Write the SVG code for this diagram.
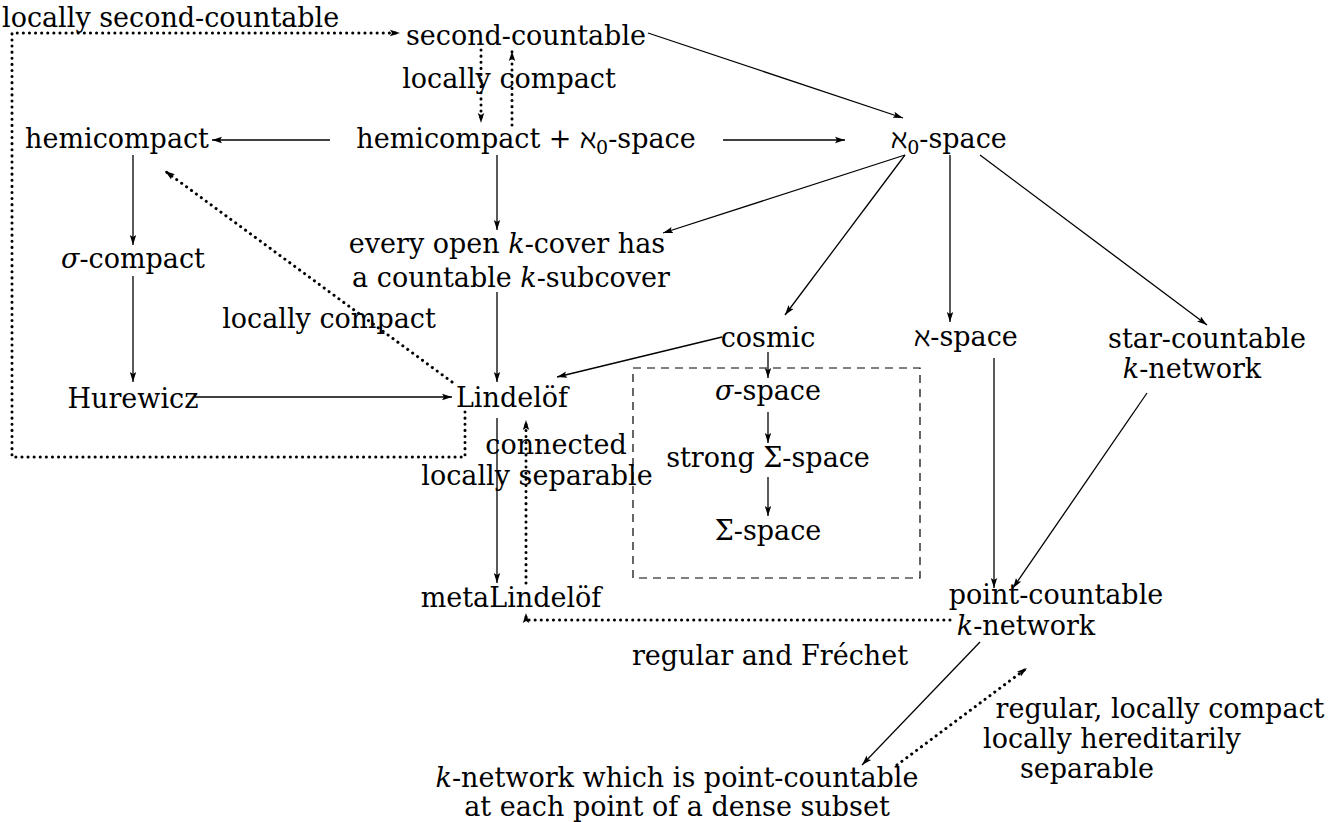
<svg xmlns="http://www.w3.org/2000/svg" width="1342" height="822" viewBox="0 0 1342 822">
<defs>
<marker id="ah" markerUnits="userSpaceOnUse" markerWidth="12" markerHeight="8" refX="10" refY="4" orient="auto">
<path d="M0,0.8 L10,4 L0,7.2 L2,4 Z" fill="#000"/>
</marker>
<style>
text{font-family:'DejaVu Serif',serif;font-size:27px;fill:#000;text-anchor:middle}
.l{text-anchor:start}
.it{font-style:italic}
.sub{font-size:19px}
.s{fill:none;stroke:#000;stroke-width:1.3}
.d{fill:none;stroke:#000;stroke-width:3;stroke-linecap:round;stroke-dasharray:0.1 6}
.dash{fill:none;stroke:#000;stroke-width:1.2;stroke-dasharray:8 6}
</style>
</defs>
<rect width="1342" height="822" fill="#fff"/>
<g id="connectors">
<path class="d" d="M465,412 V457 H12 V33 H400" marker-end="url(#ah)"/>
<path class="s" d="M648,33 L903,118" marker-end="url(#ah)"/>
<path class="d" d="M481,50 V123" marker-end="url(#ah)"/>
<path class="d" d="M512,125 V51" marker-end="url(#ah)"/>
<path class="s" d="M330,140 H212" marker-end="url(#ah)"/>
<path class="s" d="M723,140 H845" marker-end="url(#ah)"/>
<path class="s" d="M133,155 V245" marker-end="url(#ah)"/>
<path class="s" d="M133,276 V382" marker-end="url(#ah)"/>
<path class="s" d="M195,397 H452" marker-end="url(#ah)"/>
<path class="d" d="M452,382 L165,171" marker-end="url(#ah)"/>
<path class="s" d="M497,155 V230" marker-end="url(#ah)"/>
<path class="s" d="M905,155 L663,233" marker-end="url(#ah)"/>
<path class="s" d="M497,292 V382" marker-end="url(#ah)"/>
<path class="s" d="M905,155 L785,315" marker-end="url(#ah)"/>
<path class="s" d="M950,155 V322" marker-end="url(#ah)"/>
<path class="s" d="M980,155 L1207,325" marker-end="url(#ah)"/>
<path class="s" d="M722,337 L557,377" marker-end="url(#ah)"/>
<path class="s" d="M768,352 V378" marker-end="url(#ah)"/>
<path class="s" d="M768,412 V443" marker-end="url(#ah)"/>
<path class="s" d="M768,477 V516" marker-end="url(#ah)"/>
<path class="s" d="M497,418 V583" marker-end="url(#ah)"/>
<path class="d" d="M526,583 V420" marker-end="url(#ah)"/>
<path class="s" d="M994,358 V588" marker-end="url(#ah)"/>
<path class="s" d="M1147,393 L1013,588" marker-end="url(#ah)"/>
<path class="d" d="M950,620 H526 V613" marker-end="url(#ah)"/>
<path class="s" d="M980,642 L862,765" marker-end="url(#ah)"/>
<path class="d" d="M897,765 L1027,668" marker-end="url(#ah)"/>
<rect class="dash" x="633" y="368" width="287" height="210"/>
</g>
<g id="lbl-locally-second-countable"><text class="l" x="2" y="27">locally second-countable</text></g>
<g id="second-countable"><text x="526" y="45">second-countable</text></g>
<g id="lbl-locally-compact-1"><text x="509" y="88">locally compact</text></g>
<g id="hemicompact"><text x="117" y="148">hemicompact</text></g>
<g id="hemicompact-aleph0"><text x="526" y="148">hemicompact + ℵ<tspan class="sub" dy="6">0</tspan><tspan dy="-6">-space</tspan></text></g>
<g id="aleph0-space"><text x="949" y="148">ℵ<tspan class="sub" dy="6">0</tspan><tspan dy="-6">-space</tspan></text></g>
<g id="sigma-compact"><text x="133" y="268"><tspan class="it">σ</tspan>-compact</text></g>
<g id="every-open"><text x="507" y="253">every open <tspan class="it">k</tspan>-cover has</text><text x="511" y="287">a countable <tspan class="it">k</tspan>-subcover</text></g>
<g id="lbl-locally-compact-2"><text x="329" y="328">locally compact</text></g>
<g id="cosmic"><text x="768" y="347">cosmic</text></g>
<g id="aleph-space"><text x="966" y="346">ℵ-space</text></g>
<g id="star-countable"><text x="1207" y="348">star-countable</text><text x="1192" y="378"><tspan class="it">k</tspan>-network</text></g>
<g id="hurewicz"><text x="133" y="408">Hurewicz</text></g>
<g id="lindelof"><text x="512" y="407">Lindelöf</text></g>
<g id="sigma-space"><text x="768" y="400"><tspan class="it">σ</tspan>-space</text></g>
<g id="strong-Sigma"><text x="768" y="467">strong Σ-space</text></g>
<g id="Sigma-space"><text x="768" y="540">Σ-space</text></g>
<g id="lbl-connected"><text x="556" y="454">connected</text><text x="537" y="485">locally separable</text></g>
<g id="metalindelof"><text x="511" y="607">metaLindelöf</text></g>
<g id="point-countable"><text x="1056" y="604">point-countable</text><text x="1026" y="635"><tspan class="it">k</tspan>-network</text></g>
<g id="lbl-regular-frechet"><text x="770" y="665">regular and Fréchet</text></g>
<g id="lbl-regular-lc"><text x="1160" y="718">regular, locally compact</text><text x="1112" y="748">locally hereditarily</text><text x="1087" y="778">separable</text></g>
<g id="k-network-dense"><text x="677" y="787"><tspan class="it">k</tspan>-network which is point-countable</text><text x="677" y="816">at each point of a dense subset</text></g>
</svg>
